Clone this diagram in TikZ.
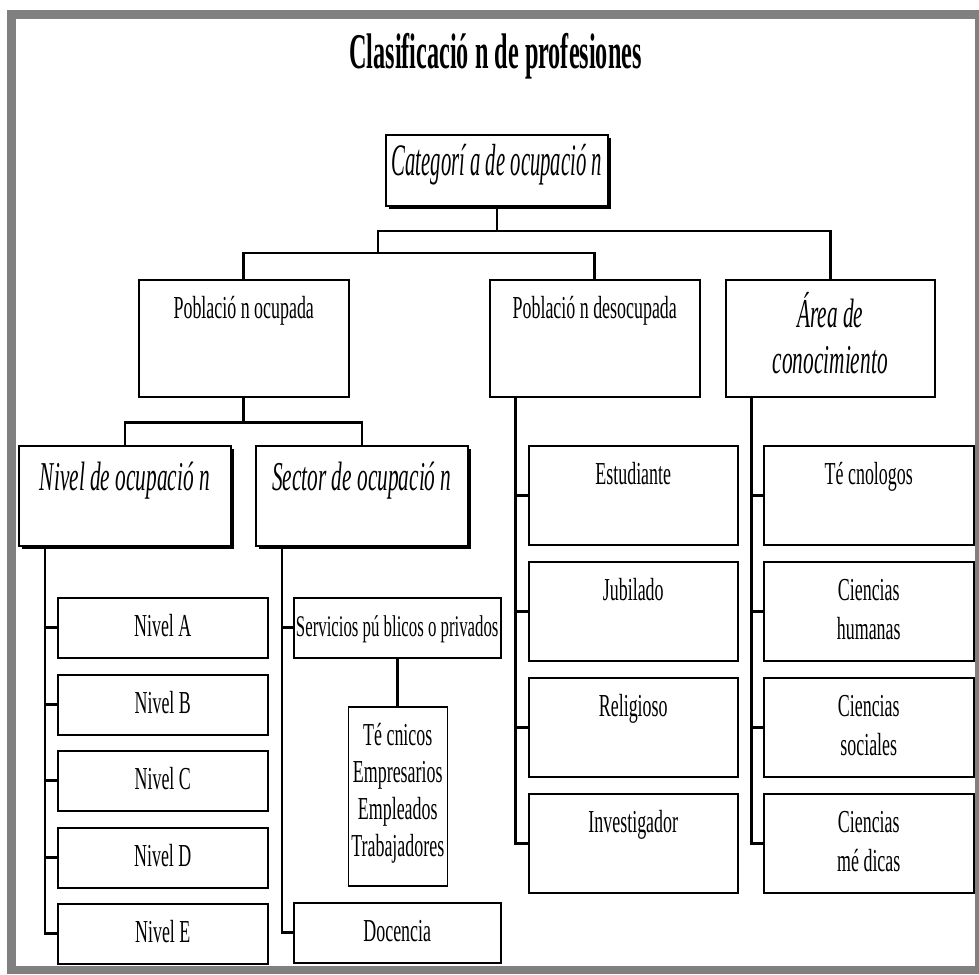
\documentclass[tikz,border=0pt]{standalone}
\usepackage{fontspec}
\setmainfont{Liberation Serif}
\newfontfamily\cuerpo[FakeStretch=0.56]{Liberation Serif}
\newfontfamily\cursiva[FakeStretch=0.52]{Liberation Serif}
\newfontfamily\catfam[FakeStretch=0.46]{Liberation Serif}
\newfontfamily\titfam[FakeStretch=0.485]{Liberation Serif}
\usetikzlibrary{positioning,shadows}
\definecolor{marco}{HTML}{808080}
\tikzset{
  caja/.style={draw,line width=1.5pt,fill=white,anchor=north west,inner sep=0pt,
    drop shadow={shadow xshift=1.2pt,shadow yshift=-1.2pt,fill=black!45,opacity=1}},
  cajag/.style={draw,line width=1.8pt,fill=white,anchor=north west,inner sep=0pt,
    drop shadow={shadow xshift=3.5pt,shadow yshift=-3.5pt,fill=black,opacity=1}},
  txt/.style={anchor=base,yshift=-39pt,align=center,inner sep=0pt,
    font={\cuerpo\fontsize{32pt}{39pt}\selectfont}},
  dos/.style={txt,yshift=-39pt},
  cur/.style={anchor=base,yshift=-45pt,align=center,inner sep=0pt,
    font={\cursiva\itshape\fontsize{41pt}{46pt}\selectfont}},
  lin/.style={line width=2.8pt},
  ancha/.style={minimum width=209pt,minimum height=99pt},
  baja/.style={minimum width=210pt,minimum height=60pt},
}

\begin{document}
\begin{tikzpicture}[x=1pt,y=-1pt]
  \useasboundingbox (0,0) rectangle (979,974);
  \fill[white] (0,0) rectangle (979,974);
  \fill[marco] (7,10) rectangle (979,974);
  \fill[white] (16,19) rectangle (975,966);

  \node[anchor=base,inner sep=0pt,font={\titfam\bfseries\fontsize{50pt}{52pt}\selectfont}]
    (tit) at (495.5,69) {Clasificació n de profesiones};

  \node[cajag,minimum width=222pt,minimum height=71pt,
    label={[anchor=base,yshift=-41pt,inner sep=0pt,font={\catfam\itshape\fontsize{45pt}{48pt}\selectfont}]north:Categorí a de ocupació n}]
    (cat) at (385,134) {};

  \node[caja,minimum width=210pt,minimum height=117pt,label={[txt]north:Població n ocupada}] (pocup) at (138,279) {};
  \node[caja,minimum width=210pt,minimum height=117pt,label={[txt]north:Població n desocupada}] (pdes) at (489,279) {};
  \node[caja,minimum width=209pt,minimum height=117pt,label={[cur,yshift=-49pt]north:{Área de\\conocimiento}}] (area) at (725,279) {};

  \node[cajag,minimum width=212pt,minimum height=100pt,label={[cur]north:Nivel de ocupació n}] (nivel) at (18,445) {};
  \node[cajag,minimum width=212pt,minimum height=100pt,label={[cur]north:Sector de ocupació n}] (sector) at (255,445) {};

  \node[caja,baja,label={[txt]north:Nivel A}] (nA) at (57,597) {};
  \node[caja,baja,label={[txt]north:Nivel B}] (nB) at (57,674) {};
  \node[caja,baja,label={[txt]north:Nivel C}] (nC) at (57,750) {};
  \node[caja,baja,label={[txt]north:Nivel D}] (nD) at (57,827) {};
  \node[caja,baja,label={[txt]north:Nivel E}] (nE) at (57,903) {};

  \node[caja,baja,minimum width=207pt,
    label={[txt,font={\cuerpo\fontsize{30pt}{39pt}\selectfont}]north:Servicios pú blicos o privados}] (serv) at (293,597) {};
  \node[caja,minimum width=99pt,minimum height=179pt,
    label={[txt,yshift=-111pt,font={\cuerpo\fontsize{32pt}{37pt}\selectfont}]north:{Té cnicos\\Empresarios\\Empleados\\Trabajadores}}]
    (tec) at (347.5,706) {};
  \node[caja,baja,minimum width=207pt,label={[txt]north:Docencia}] (doc) at (293,902) {};

  \node[caja,ancha,label={[txt]north:Estudiante}] (es) at (528,445) {};
  \node[caja,ancha,label={[txt]north:Jubilado}] (ju) at (528,561) {};
  \node[caja,ancha,label={[txt]north:Religioso}] (rel) at (528,677) {};
  \node[caja,ancha,label={[txt]north:Investigador}] (inv) at (528,793) {};

  \node[caja,ancha,minimum width=210pt,label={[txt]north:Té cnologos}] (tcn) at (763,445) {};
  \node[caja,ancha,minimum width=210pt,label={[dos]north:{Ciencias\\humanas}}] (hum) at (763,561) {};
  \node[caja,ancha,minimum width=210pt,label={[dos]north:{Ciencias\\sociales}}] (soc) at (763,677) {};
  \node[caja,ancha,minimum width=210pt,label={[dos]north:{Ciencias\\mé dicas}}] (med) at (763,793) {};

  \coordinate (j1) at (378,231);
  \coordinate (j2) at (378,253);
  \draw[lin] (cat.south) -- (cat.south |- j1);
  \draw[lin] (j2) -- (j1) -| (area.north);
  \draw[lin] (pocup.north) |- (j2) -| (pdes.north);
  \draw[lin] (pocup.south) -- ++(0,25) coordinate (j3);
  \draw[lin] (nivel.north) |- (j3) -| (sector.north);

  \coordinate (tn) at ([xshift=-80pt]nivel.south);
  \draw[lin] (tn) |- (nE.west);
  \foreach \n in {nA,nB,nC,nD} \draw[lin] (tn |- \n.west) -- (\n.west);

  \coordinate (ts) at ([xshift=-80pt]sector.south);
  \draw[lin] (ts) |- (doc.west);
  \draw[lin] (ts |- serv.west) -- (serv.west);
  \draw[lin] (serv.south) -- (serv.south |- tec.north);

  \coordinate (td) at ([xshift=-79pt]pdes.south);
  \draw[lin] (td) |- (inv.west);
  \foreach \n in {es,ju,rel} \draw[lin] (td |- \n.west) -- (\n.west);

  \coordinate (ta) at ([xshift=-78.5pt]area.south);
  \draw[lin] (ta) |- (med.west);
  \foreach \n in {tcn,hum,soc} \draw[lin] (ta |- \n.west) -- (\n.west);
\end{tikzpicture}
\end{document}
